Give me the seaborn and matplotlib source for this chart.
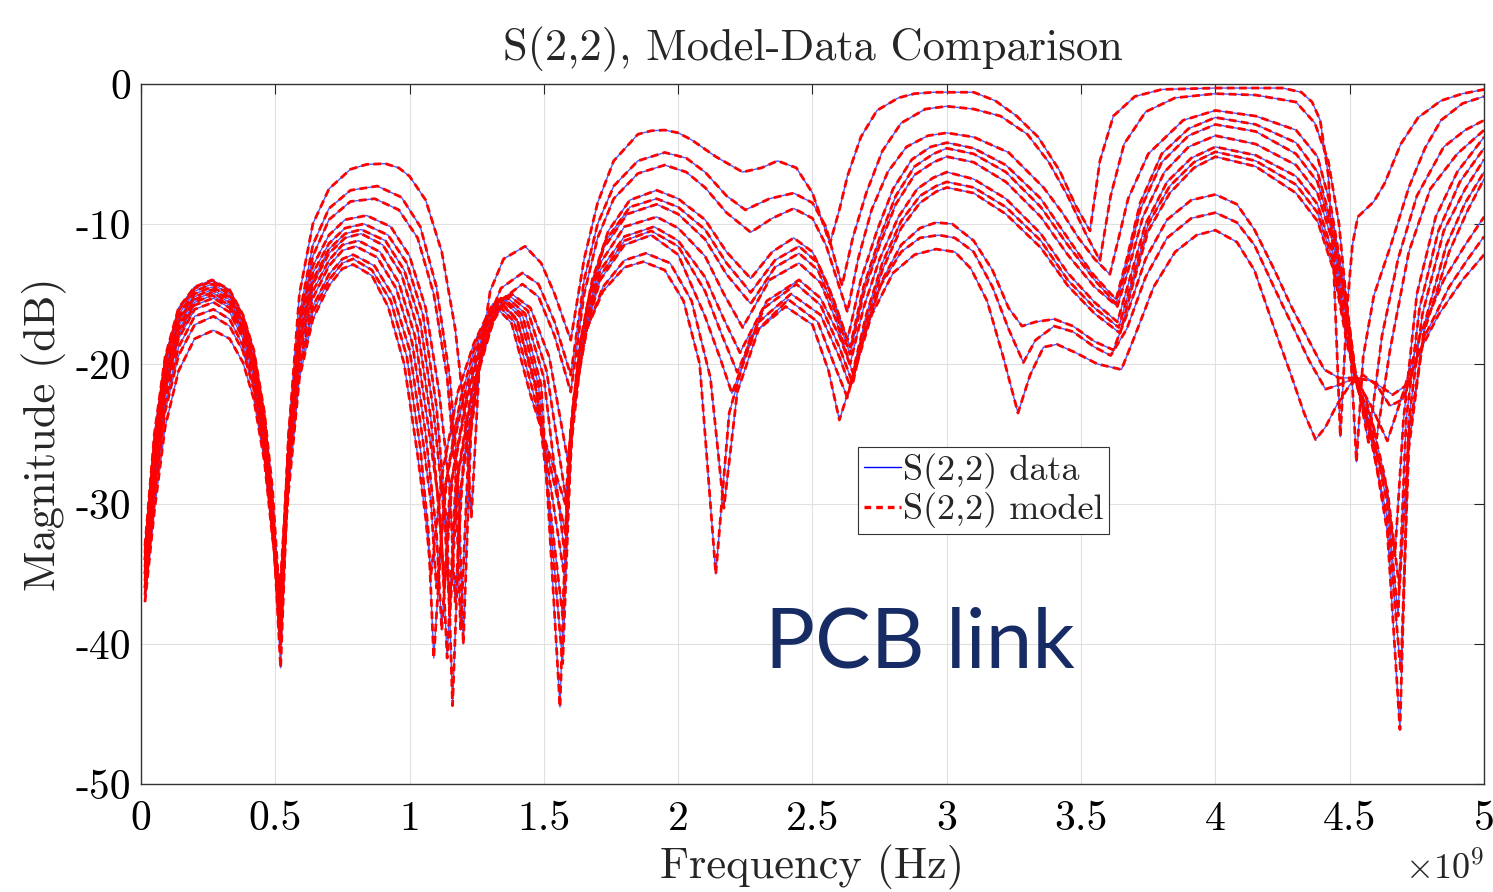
import numpy as np
import pandas as pd
import matplotlib
matplotlib.use('Agg')
import matplotlib.pyplot as plt
from matplotlib.lines import Line2D
import seaborn as sns

# S(2,2) magnitude traces, (frequency GHz, dB)
c0 = [(0.015,-33.0),(0.05,-25.0),(0.09,-19.5),(0.14,-16.0),(0.20,-14.5),(0.265,-14.0),(0.33,-14.7),(0.38,-16.5),(0.42,-19.0),(0.46,-23.5),(0.49,-29.0),(0.52,-38.0),
      (0.55,-25.0),(0.59,-15.0),(0.64,-10.0),(0.70,-7.5),(0.78,-6.1),(0.84,-5.75),(0.91,-5.7),(0.96,-6.0),(1.00,-6.6),(1.06,-8.3),(1.12,-12.0),(1.17,-17.5),(1.21,-24.5),(1.23,-31.0),
      (1.26,-20.0),(1.30,-14.8),(1.35,-12.5),(1.43,-11.6),(1.49,-12.8),(1.54,-15.0),(1.60,-18.3),
      (1.65,-12.5),(1.70,-8.5),(1.76,-5.5),(1.85,-3.6),(1.90,-3.35),(1.95,-3.3),(2.00,-3.5),(2.05,-4.0),(2.14,-5.2),(2.24,-6.3),(2.31,-6.0),(2.37,-5.5),(2.44,-6.0),(2.50,-7.8),(2.565,-11.4),(2.60,-9.0),(2.63,-6.6),(2.68,-3.8),(2.74,-1.9),(2.82,-1.0),(2.88,-0.7),(2.95,-0.6),(3.10,-0.6),
      (3.18,-1.2),(3.26,-2.3),(3.34,-3.8),(3.42,-6.2),(3.48,-8.7),(3.533,-10.5),(3.57,-5.5),(3.62,-2.3),(3.70,-0.9),(3.80,-0.4),(4.00,-0.3),(4.25,-0.3),(4.32,-0.6),(4.36,-1.3),(4.39,-2.6),(4.42,-6.5),(4.44,-13.0),(4.465,-25.2),(4.49,-16.0),(4.51,-11.5),(4.53,-9.5),(4.59,-8.4),(4.63,-7.1),(4.69,-4.3),(4.755,-2.4),(4.84,-1.2),(4.92,-0.7),(5.0,-0.4)]
c1 = [(0.015,-33.5),(0.05,-25.5),(0.09,-19.8),(0.14,-16.2),(0.20,-14.6),(0.265,-14.1),(0.33,-14.8),(0.38,-16.6),(0.42,-19.2),(0.46,-23.8),(0.49,-30.0),(0.52,-40.0),
      (0.55,-26.0),(0.59,-16.5),(0.64,-11.5),(0.70,-8.9),(0.78,-7.6),(0.88,-7.3),(0.97,-8.1),(1.04,-10.2),(1.10,-14.5),(1.15,-21.0),(1.18,-28.0),(1.20,-40.0),
      (1.23,-24.0),(1.28,-17.5),(1.34,-14.6),(1.42,-13.5),(1.48,-14.3),(1.54,-17.0),(1.60,-20.8),
      (1.65,-14.0),(1.70,-10.0),(1.76,-7.3),(1.85,-5.5),(1.95,-4.9),(2.03,-5.3),(2.10,-6.3),(2.18,-8.0),(2.25,-9.0),(2.34,-8.2),(2.43,-7.8),(2.50,-8.5),(2.55,-10.2),(2.61,-14.4),(2.65,-11.0),(2.70,-7.8),(2.76,-4.8),(2.83,-2.8),(2.92,-1.8),(3.00,-1.6),
      (3.10,-1.8),(3.20,-2.3),(3.30,-3.6),(3.38,-5.6),(3.45,-8.0),(3.52,-10.8),(3.57,-12.6),(3.61,-8.0),(3.66,-4.3),(3.74,-2.0),(3.85,-1.0),(4.00,-0.7),(4.15,-0.8),(4.30,-1.3),(4.37,-2.8),(4.42,-5.5),(4.46,-10.0),(4.50,-18.0),(4.525,-27.0),(4.55,-19.5),(4.59,-15.1),(4.655,-11.4),(4.72,-7.4),(4.78,-4.6),(4.84,-2.6),(4.92,-1.4),(5.0,-0.9)]
c2 = [(0.015,-34.0),(0.05,-26.0),(0.09,-20.2),(0.14,-16.5),(0.20,-14.8),(0.265,-14.3),(0.33,-15.0),(0.38,-16.9),(0.42,-19.6),(0.46,-24.3),(0.49,-31.0),(0.52,-41.7),
      (0.55,-26.5),(0.59,-17.0),(0.64,-12.3),(0.70,-9.7),(0.78,-8.4),(0.87,-8.2),(0.96,-9.0),(1.03,-11.0),(1.09,-15.0),(1.14,-21.0),(1.17,-27.5),(1.19,-39.0),
      (1.22,-26.0),(1.27,-19.0),(1.33,-15.6),(1.42,-14.3),(1.48,-15.2),(1.54,-18.0),(1.60,-22.0),
      (1.65,-15.0),(1.70,-11.0),(1.76,-8.2),(1.85,-6.4),(1.95,-5.8),(2.03,-6.3),(2.10,-7.4),(2.18,-9.2),(2.27,-10.6),(2.35,-9.6),(2.43,-8.9),(2.50,-9.6),(2.55,-11.5),(2.63,-16.3),(2.67,-12.5),(2.72,-9.0),(2.78,-6.3),(2.85,-4.5),(2.93,-3.7),(3.00,-3.5),
      (3.10,-3.8),(3.23,-4.9),(3.36,-7.4),(3.43,-9.2),(3.49,-11.0),(3.55,-12.5),(3.607,-13.6),(3.64,-11.0),(3.675,-8.2),(3.75,-5.0),(3.88,-2.6),(4.00,-1.9),(4.15,-2.3),(4.30,-3.3),(4.38,-5.2),(4.43,-8.8),(4.48,-14.5),(4.52,-20.5),(4.57,-25.6),(4.62,-18.0),(4.68,-12.5),(4.75,-8.0),(4.85,-4.5),(4.93,-3.3),(5.0,-2.6)]
c3 = [(0.015,-34.0),(0.05,-26.3),(0.09,-20.5),(0.14,-16.8),(0.20,-15.0),(0.265,-14.5),(0.33,-15.2),(0.38,-17.1),(0.42,-19.9),(0.46,-24.6),(0.49,-31.0),(0.515,-39.0),
      (0.55,-25.0),(0.59,-17.0),(0.64,-13.0),(0.70,-10.8),(0.76,-9.7),(0.84,-9.4),(0.93,-10.2),(1.00,-12.3),(1.06,-16.0),(1.11,-22.0),(1.15,-29.0),(1.17,-37.0),
      (1.20,-27.0),(1.26,-20.0),(1.32,-16.5),(1.38,-15.0),(1.45,-16.0),(1.52,-19.5),(1.59,-27.0),
      (1.63,-19.0),(1.68,-14.0),(1.74,-10.5),(1.82,-8.3),(1.92,-7.6),(2.00,-8.2),(2.10,-9.7),(2.18,-12.0),(2.27,-13.9),(2.35,-12.0),(2.43,-11.0),(2.50,-12.0),(2.56,-14.5),(2.63,-18.3),(2.68,-14.0),(2.74,-10.5),(2.80,-7.5),(2.87,-5.4),(2.94,-4.5),(3.00,-4.2),
      (3.10,-4.6),(3.22,-5.8),(3.35,-8.2),(3.45,-11.0),(3.54,-13.5),(3.63,-15.4),(3.67,-12.5),(3.72,-8.5),(3.80,-5.0),(3.90,-3.2),(4.00,-2.4),(4.15,-2.9),(4.30,-4.2),(4.38,-6.3),(4.44,-10.5),(4.49,-16.0),(4.52,-20.5),(4.56,-22.5),(4.60,-25.3),(4.65,-19.0),(4.72,-12.0),(4.80,-7.5),(4.90,-5.0),(5.0,-3.3)]
c4 = [(0.015,-34.5),(0.05,-26.8),(0.09,-20.9),(0.14,-17.0),(0.20,-15.2),(0.265,-14.7),(0.33,-15.4),(0.38,-17.3),(0.42,-20.1),(0.46,-24.8),(0.49,-31.0),(0.515,-38.0),
      (0.55,-25.5),(0.59,-17.5),(0.64,-13.5),(0.70,-11.4),(0.76,-10.3),(0.83,-10.0),(0.92,-10.8),(0.99,-12.8),(1.05,-16.5),(1.10,-23.0),(1.14,-32.0),(1.16,-44.4),
      (1.19,-29.0),(1.25,-21.0),(1.31,-17.0),(1.37,-15.1),(1.44,-16.2),(1.51,-20.5),(1.585,-30.0),
      (1.62,-21.0),(1.67,-15.0),(1.73,-11.2),(1.82,-8.8),(1.92,-8.2),(2.00,-8.8),(2.10,-10.4),(2.18,-12.8),(2.27,-14.9),(2.36,-12.6),(2.45,-11.6),(2.52,-12.8),(2.58,-15.5),(2.64,-18.8),(2.69,-14.5),(2.75,-11.0),(2.81,-8.0),(2.88,-5.9),(2.95,-5.0),(3.00,-4.6),
      (3.10,-5.0),(3.22,-6.3),(3.35,-8.8),(3.45,-11.5),(3.55,-14.0),(3.63,-15.7),(3.67,-13.0),(3.72,-9.0),(3.80,-5.6),(3.90,-3.7),(4.00,-2.9),(4.15,-3.4),(4.30,-5.0),(4.38,-7.0),(4.44,-11.0),(4.49,-16.5),(4.52,-21.0),(4.58,-24.0),(4.63,-28.0),(4.668,-33.7),(4.70,-24.0),(4.75,-15.0),(4.82,-9.5),(4.90,-6.3),(5.0,-3.8)]
c5 = [(0.015,-35.0),(0.05,-27.2),(0.09,-21.2),(0.14,-17.3),(0.20,-15.4),(0.265,-14.9),(0.33,-15.6),(0.38,-17.5),(0.42,-20.3),(0.46,-25.0),(0.49,-31.0),(0.515,-37.0),
      (0.55,-26.0),(0.59,-18.0),(0.64,-14.0),(0.70,-11.8),(0.76,-10.7),(0.82,-10.4),(0.91,-11.2),(0.98,-13.3),(1.04,-17.0),(1.09,-23.5),(1.13,-31.0),(1.15,-38.0),
      (1.18,-28.0),(1.24,-21.5),(1.30,-17.3),(1.36,-15.2),(1.43,-16.4),(1.50,-21.0),(1.58,-34.0),
      (1.61,-23.0),(1.66,-16.0),(1.72,-11.8),(1.81,-9.3),(1.92,-8.6),(2.00,-9.3),(2.10,-11.1),(2.18,-13.6),(2.27,-15.7),(2.36,-13.1),(2.45,-12.1),(2.52,-13.3),(2.58,-16.0),(2.64,-19.3),(2.69,-15.0),(2.75,-11.5),(2.81,-8.6),(2.88,-6.5),(2.95,-5.6),(3.00,-5.2),
      (3.10,-5.6),(3.22,-7.0),(3.35,-9.5),(3.45,-12.2),(3.55,-14.5),(3.635,-15.9),(3.68,-13.0),(3.73,-9.5),(3.81,-6.3),(3.90,-4.5),(4.00,-3.7),(4.15,-4.3),(4.30,-5.8),(4.38,-7.8),(4.44,-11.5),(4.49,-17.0),(4.52,-21.0),(4.58,-24.5),(4.64,-30.0),(4.68,-38.0),(4.71,-24.0),(4.76,-16.0),(4.83,-10.5),(4.91,-7.0),(5.0,-4.6)]
c6 = [(0.015,-35.0),(0.05,-27.5),(0.09,-21.5),(0.14,-17.6),(0.20,-15.6),(0.265,-15.1),(0.33,-15.8),(0.38,-17.7),(0.42,-20.5),(0.46,-25.2),(0.49,-31.5),(0.52,-40.0),
      (0.55,-26.5),(0.59,-18.3),(0.64,-14.3),(0.70,-12.1),(0.76,-11.0),(0.82,-10.7),(0.90,-11.5),(0.97,-13.6),(1.03,-17.5),(1.08,-24.0),(1.12,-33.0),(1.14,-41.0),
      (1.17,-29.0),(1.23,-22.0),(1.29,-17.5),(1.35,-15.3),(1.42,-16.5),(1.49,-21.5),(1.56,-44.5),
      (1.59,-27.0),(1.64,-18.0),(1.71,-12.8),(1.80,-10.2),(1.92,-9.5),(2.00,-10.3),(2.10,-12.3),(2.17,-15.0),(2.24,-17.4),(2.34,-14.0),(2.45,-12.8),(2.53,-14.2),(2.59,-17.0),(2.64,-20.0),(2.69,-16.0),(2.75,-12.5),(2.82,-9.5),(2.89,-7.5),(2.95,-6.7),(3.00,-6.3),
      (3.10,-6.8),(3.22,-8.2),(3.35,-10.7),(3.45,-13.5),(3.55,-15.6),(3.635,-17.0),(3.68,-14.0),(3.74,-10.0),(3.82,-7.0),(3.91,-5.3),(4.00,-4.5),(4.15,-5.1),(4.30,-6.6),(4.38,-8.6),(4.44,-12.3),(4.49,-17.5),(4.52,-21.0),(4.58,-25.0),(4.64,-32.0),(4.687,-46.1),(4.72,-24.0),(4.77,-16.5),(4.85,-10.5),(4.93,-7.5),(5.0,-5.4)]
c7 = [(0.015,-35.5),(0.05,-27.8),(0.09,-21.8),(0.14,-17.9),(0.20,-15.8),(0.27,-15.3),(0.33,-16.0),(0.38,-17.9),(0.42,-20.7),(0.46,-25.4),(0.49,-31.5),(0.52,-38.5),
      (0.55,-27.0),(0.59,-18.8),(0.64,-14.8),(0.70,-12.6),(0.75,-11.5),(0.81,-11.2),(0.89,-12.0),(0.96,-14.2),(1.02,-18.0),(1.07,-24.5),(1.11,-30.0),(1.13,-36.0),
      (1.16,-28.0),(1.22,-22.0),(1.28,-17.8),(1.34,-15.3),(1.41,-16.6),(1.48,-21.5),(1.57,-41.4),
      (1.60,-26.0),(1.65,-17.5),(1.71,-13.3),(1.80,-10.9),(1.91,-10.2),(2.00,-11.2),(2.10,-13.8),(2.17,-16.8),(2.23,-19.2),(2.33,-15.5),(2.45,-14.0),(2.53,-15.3),(2.60,-18.0),(2.65,-20.6),(2.70,-16.5),(2.76,-12.8),(2.83,-9.8),(2.90,-8.0),(2.96,-7.3),(3.00,-7.0),
      (3.10,-7.4),(3.22,-8.8),(3.35,-11.2),(3.45,-14.0),(3.55,-16.0),(3.64,-17.4),(3.69,-14.0),(3.75,-10.0),(3.83,-7.3),(3.92,-5.6),(4.00,-4.85),(4.15,-5.5),(4.30,-7.2),(4.38,-9.2),(4.44,-12.8),(4.49,-18.0),(4.52,-21.0),(4.58,-25.5),(4.64,-31.0),(4.69,-42.0),(4.72,-26.0),(4.78,-17.0),(4.86,-11.5),(4.93,-8.5),(5.0,-6.3)]
c8 = [(0.015,-36.0),(0.05,-28.2),(0.09,-22.2),(0.14,-18.2),(0.20,-16.1),(0.27,-15.6),(0.33,-16.3),(0.38,-18.2),(0.42,-21.0),(0.46,-25.7),(0.49,-31.5),(0.515,-37.5),
      (0.55,-27.5),(0.59,-19.3),(0.64,-15.3),(0.70,-13.0),(0.75,-11.9),(0.80,-11.6),(0.88,-12.4),(0.95,-14.6),(1.01,-18.5),(1.06,-25.0),(1.10,-32.0),(1.12,-39.0),
      (1.15,-29.0),(1.21,-22.5),(1.27,-18.0),(1.33,-15.4),(1.40,-16.8),(1.47,-21.5),(1.57,-38.0),
      (1.60,-25.0),(1.65,-17.8),(1.71,-13.7),(1.80,-11.2),(1.90,-10.5),(2.00,-11.6),(2.10,-14.8),(2.16,-17.8),(2.22,-20.6),(2.32,-16.0),(2.44,-14.3),(2.53,-15.8),(2.60,-18.8),(2.65,-21.4),(2.70,-17.0),(2.76,-13.3),(2.83,-10.3),(2.90,-8.5),(2.96,-7.7),(3.00,-7.4),
      (3.10,-7.8),(3.22,-9.3),(3.35,-11.7),(3.45,-14.4),(3.55,-16.4),(3.645,-17.8),(3.69,-14.5),(3.75,-10.5),(3.83,-7.8),(3.92,-6.0),(4.00,-5.2),(4.15,-5.9),(4.30,-7.8),(4.38,-9.8),(4.44,-13.3),(4.49,-18.5),(4.52,-21.0),(4.58,-25.0),(4.64,-29.0),(4.685,-36.0),(4.72,-25.0),(4.78,-17.5),(4.87,-12.0),(4.94,-9.0),(5.0,-6.8)]
c9 = [(0.015,-36.0),(0.05,-28.8),(0.09,-22.8),(0.14,-18.8),(0.20,-16.6),(0.27,-16.1),(0.33,-16.8),(0.38,-18.7),(0.42,-21.4),(0.46,-26.0),(0.49,-32.0),(0.52,-39.0),
      (0.55,-28.0),(0.59,-20.0),(0.64,-15.9),(0.70,-13.6),(0.75,-12.5),(0.79,-12.2),(0.87,-13.0),(0.94,-15.2),(1.00,-19.0),(1.05,-25.5),(1.08,-30.0),(1.10,-36.0),
      (1.14,-28.0),(1.20,-22.5),(1.26,-18.2),(1.33,-15.5),(1.40,-16.9),(1.47,-21.8),(1.575,-35.0),
      (1.60,-24.5),(1.65,-18.0),(1.71,-14.0),(1.80,-11.5),(1.90,-10.8),(2.00,-12.2),(2.10,-16.6),(2.16,-19.8),(2.20,-22.1),(2.30,-17.0),(2.42,-15.0),(2.53,-16.5),(2.60,-19.5),(2.64,-21.6),(2.70,-17.5),(2.76,-14.0),(2.83,-11.5),(2.90,-10.3),(2.96,-9.9),(3.02,-10.0),
      (3.10,-11.2),(3.17,-13.3),(3.23,-16.0),(3.28,-17.3),(3.33,-17.0),(3.40,-16.8),(3.47,-17.3),(3.55,-18.4),(3.62,-19.0),(3.67,-16.5),(3.74,-12.5),(3.82,-9.7),(3.91,-8.3),(4.00,-7.9),(4.08,-8.6),(4.145,-10.4),(4.22,-13.3),(4.28,-15.8),(4.35,-18.4),(4.405,-20.4),(4.46,-21.0),(4.52,-21.0),(4.58,-23.0),(4.64,-25.5),(4.70,-22.0),(4.76,-18.0),(4.85,-14.0),(4.93,-11.5),(5.0,-9.5)]
c10 = [(0.015,-36.5),(0.05,-29.5),(0.09,-23.4),(0.14,-19.4),(0.20,-17.2),(0.27,-16.6),(0.33,-17.3),(0.38,-19.1),(0.42,-21.8),(0.46,-26.4),(0.49,-32.0),(0.52,-37.0),
       (0.55,-28.5),(0.59,-20.5),(0.64,-16.3),(0.70,-14.0),(0.75,-12.8),(0.79,-12.5),(0.86,-13.3),(0.93,-15.5),(0.99,-19.5),(1.04,-26.0),(1.07,-32.0),(1.09,-41.0),
       (1.13,-29.0),(1.19,-22.5),(1.25,-18.3),(1.32,-15.6),(1.39,-17.0),(1.46,-22.0),(1.58,-32.0),
       (1.61,-23.0),(1.66,-17.5),(1.72,-14.5),(1.80,-12.6),(1.88,-12.1),(1.97,-12.8),(2.05,-15.5),(2.12,-21.0),(2.17,-30.3),(2.22,-22.0),(2.30,-17.5),(2.41,-15.4),(2.52,-17.0),(2.58,-20.0),(2.63,-22.4),(2.68,-18.5),(2.75,-14.5),(2.83,-12.0),(2.90,-11.0),(2.97,-10.8),(3.03,-11.0),
       (3.10,-12.0),(3.17,-14.5),(3.23,-17.5),(3.285,-19.9),(3.33,-18.3),(3.40,-17.3),(3.47,-17.7),(3.55,-18.8),(3.61,-19.4),(3.67,-17.5),(3.74,-13.8),(3.82,-11.0),(3.91,-9.6),(4.00,-9.2),(4.08,-9.9),(4.145,-11.5),(4.22,-14.6),(4.28,-17.0),(4.35,-19.8),(4.41,-21.8),(4.46,-21.5),(4.52,-21.0),(4.58,-21.2),(4.63,-21.8),(4.66,-22.2),(4.72,-21.4),(4.78,-18.0),(4.87,-14.5),(4.94,-12.5),(5.0,-10.9)]
c11 = [(0.015,-37.0),(0.05,-30.5),(0.09,-24.5),(0.14,-20.5),(0.20,-18.2),(0.27,-17.6),(0.33,-18.2),(0.38,-19.9),(0.42,-22.5),(0.46,-27.0),(0.49,-32.5),(0.52,-36.0),
       (0.55,-29.0),(0.59,-21.0),(0.64,-16.8),(0.70,-14.4),(0.75,-13.2),(0.79,-12.9),(0.86,-13.7),(0.92,-15.9),(0.98,-20.0),(1.03,-26.5),(1.06,-31.0),(1.08,-35.0),
       (1.12,-28.0),(1.18,-22.0),(1.24,-18.5),(1.31,-15.7),(1.38,-17.1),(1.45,-22.2),(1.58,-30.0),
       (1.61,-22.5),(1.66,-17.5),(1.72,-14.8),(1.80,-13.1),(1.87,-12.7),(1.95,-13.3),(2.02,-15.5),(2.08,-20.0),(2.14,-35.0),(2.19,-23.5),(2.27,-18.0),(2.40,-15.9),(2.50,-17.2),(2.56,-20.5),(2.60,-24.0),(2.65,-21.0),(2.72,-16.5),(2.80,-13.5),(2.88,-12.2),(2.96,-11.8),(3.03,-12.0),
       (3.09,-13.2),(3.15,-15.5),(3.21,-19.5),(3.265,-23.5),(3.31,-20.8),(3.36,-18.8),(3.41,-18.6),(3.48,-19.2),(3.56,-20.0),(3.65,-20.4),(3.70,-18.0),(3.77,-14.5),(3.85,-12.0),(3.93,-10.8),(4.00,-10.45),(4.08,-11.3),(4.145,-13.3),(4.22,-17.5),(4.28,-20.7),(4.33,-23.5),(4.373,-25.4),(4.41,-24.5),(4.45,-23.0),(4.50,-21.5),(4.55,-20.8),(4.60,-21.5),(4.65,-23.0),(4.70,-22.5),(4.75,-19.5),(4.83,-16.5),(4.92,-14.0),(5.0,-12.2)]

traces = [c0, c1, c2, c3, c4, c5, c6, c7, c8, c9, c10, c11]

x_ticks = [0, 0.5, 1, 1.5, 2, 2.5, 3, 3.5, 4, 4.5, 5]
x_labels = ['0', '0.5', '1', '1.5', '2', '2.5', '3', '3.5', '4', '4.5', '5']
y_ticks = [0, -10, -20, -30, -40, -50]
y_labels = ['0', '-10', '-20', '-30', '-40', '-50']

rows = []
for k, tr in enumerate(traces):
    for f, m in tr:
        rows.append((k, f * 1e9, m))
df = pd.DataFrame(rows, columns=['trace', 'freq', 'mag'])

sns.set_style('white')
plt.rcParams['font.family'] = ['cmr10', 'DejaVu Serif']
plt.rcParams['mathtext.fontset'] = 'cm'
plt.rcParams['axes.unicode_minus'] = False

fig = plt.figure(figsize=(14.93, 8.92), dpi=100)
ax = fig.add_axes([0.0944, 0.121, 0.8996, 0.785])

# data underneath (thin blue), model on top (red dashed)
for k in range(len(traces)):
    d = df[df.trace == k]
    sns.lineplot(data=d, x='freq', y='mag', sort=False, color=(0.3, 0.35, 1.0),
                 linewidth=1.0, ax=ax)
for k in range(len(traces)):
    d = df[df.trace == k]
    sns.lineplot(data=d, x='freq', y='mag', sort=False, color='red',
                 linewidth=2.0, ax=ax)
    ax.lines[-1].set_dashes([2.8, 1.6])

ax.set_xlim(0, 5e9)
ax.set_ylim(-50, 0)
ax.set_xticks([t * 1e9 for t in x_ticks])
ax.set_xticklabels(x_labels)
ax.set_yticks(y_ticks)
ax.set_yticklabels(y_labels)
ax.tick_params(direction='in', length=7, width=0.8, top=True, right=True,
               labelsize=30, colors='0.15', labelcolor='black')
ax.tick_params(axis='x', pad=12)
ax.tick_params(axis='y', pad=7)
ax.grid(True, color='0.88', linewidth=0.8)
for s in ax.spines.values():
    s.set_color('0.2')
    s.set_linewidth(1.0)

ax.set_title('S(2,2), Model-Data Comparison', fontsize=32, pad=17)
ax.set_xlabel('Frequency (Hz)', fontsize=32, labelpad=5)
ax.set_ylabel('Magnitude (dB)', fontsize=32, labelpad=6)
fig.text(0.994, 0.027, r'$\times 10^9$', ha='right', va='center', fontsize=26)

handles = [Line2D([], [], color='blue', lw=1.0),
           Line2D([], [], color='red', lw=2.4, dashes=[2.0, 1.5])]
leg = ax.legend(handles, ['S(2,2) data', 'S(2,2) model'], loc='upper left',
                bbox_to_anchor=(0.534, 0.481), borderaxespad=0, fontsize=26,
                handlelength=1.05, handletextpad=0.05, borderpad=0.15,
                labelspacing=0.1, fancybox=False, framealpha=1)
leg.get_frame().set_edgecolor('0.2')
leg.get_frame().set_linewidth(0.8)

ax.text(0.4646, 0.167, 'PCB link', transform=ax.transAxes, fontsize=60,
        family='Lato', color='#172c64', ha='left', va='baseline')

fig.savefig('out.png', dpi=100)
